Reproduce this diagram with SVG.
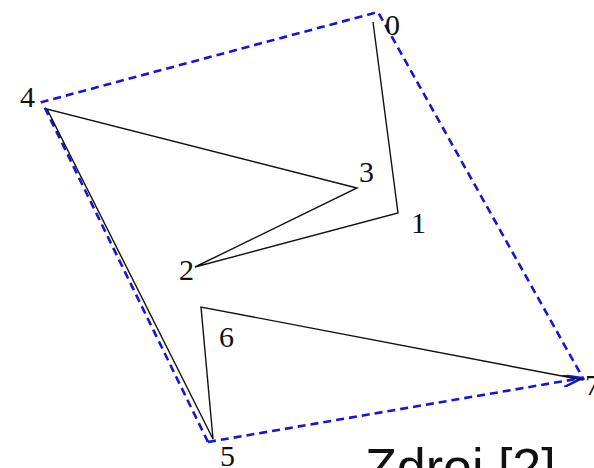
<svg xmlns="http://www.w3.org/2000/svg" width="594" height="468" viewBox="0 0 594 468">
<defs>
<style>
.lbl{font-family:"Liberation Serif","Times New Roman",serif;font-size:30px;fill:#111}
.hull{fill:none;stroke:#1515d8;stroke-width:2.6;stroke-dasharray:8,5}
.path{fill:none;stroke:#111;stroke-width:1.4}
.src{font-family:"Liberation Sans",Arial,sans-serif;font-size:52px;fill:#111}
</style>
<marker id="arr" viewBox="0 0 20 12" refX="19" refY="6" markerWidth="20" markerHeight="12" markerUnits="userSpaceOnUse" orient="auto">
<path d="M0,0 L19,6 L0,12" fill="none" stroke="#1515d8" stroke-width="2.5"/>
</marker>
</defs>
<g id="connectors">
<path class="hull" d="M208,442 L42,102 L378,12 L584,380"/>
<path class="hull" d="M208,442 L582,378" marker-end="url(#arr)"/>
<polyline class="path" points="373,22 398,213 195,267 357,188 47,109 213,439 201,307 583,380"/>
</g>
<g id="n0"><text class="lbl" x="385" y="35">0</text></g>
<g id="n1"><text class="lbl" x="411" y="233">1</text></g>
<g id="n2"><text class="lbl" x="179" y="280">2</text></g>
<g id="n3"><text class="lbl" x="359" y="182">3</text></g>
<g id="n4"><text class="lbl" x="20" y="107">4</text></g>
<g id="n5"><text class="lbl" x="220" y="466">5</text></g>
<g id="n6"><text class="lbl" x="219" y="347">6</text></g>
<g id="n7"><text class="lbl" x="585" y="395">7</text></g>
<g id="source"><text class="src" x="365" y="485">Zdroj [2]</text></g>
</svg>
